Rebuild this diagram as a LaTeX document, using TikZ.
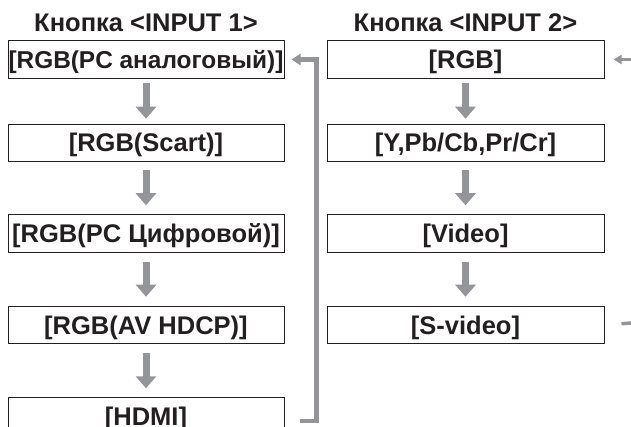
\documentclass[tikz,border=0pt]{standalone}
\usepackage{fontspec}
\setmainfont{Liberation Sans}
\usepackage{tikz}
\usetikzlibrary{positioning,arrows.meta}
\definecolor{manGray}{HTML}{939598}
\definecolor{manInk}{HTML}{231F20}
\tikzset{
  modeBox/.style={draw=manInk, line width=1pt, fill=white, minimum width=276pt, minimum height=37.5pt,
    inner sep=0pt, text height=18pt, text depth=0pt, font=\fontsize{25.5}{27}\selectfont\bfseries, text=manInk},
  header/.style={inner sep=0pt, text depth=0pt, font=\fontsize{25.5}{27}\selectfont\bfseries, text=manInk},
  stepArrow/.style={-{Triangle[width=20pt,length=12pt]}, line width=7pt, draw=manGray},
  loopArrow/.style={-{Triangle[width=11pt,length=9pt]}, line width=4.5pt, draw=manGray, shorten >=7pt},
  sideArrow/.style={-{Triangle[width=9pt,length=8pt]}, line width=3pt, draw=manGray},
  sideLine/.style={line width=3.5pt, draw=manGray}
}

\begin{document}
\begin{tikzpicture}[x=1pt, y=1pt]
  \useasboundingbox (0,0) rectangle (631,-427);
  % INPUT 1 column
  \node[modeBox, font=\fontsize{24.4}{26}\selectfont\bfseries] (lin1) at (146,-59.5) {[RGB(PC аналоговый)]};
  \node[modeBox, below=45pt of lin1] (lin2) {[RGB(Scart)]};
  \node[modeBox, below=52pt of lin2] (lin3) {[RGB(PC Цифровой)]};
  \node[modeBox, below=53pt of lin3] (lin4) {[RGB(AV HDCP)]};
  \node[modeBox, below=53pt of lin4] (lin5) {[HDMI]};
  \node[header, above=9pt of lin1] (head1) {Кнопка <INPUT 1>};
  % INPUT 2 column
  \node[modeBox, right=42pt of lin1, minimum width=277pt] (rin1) {[RGB]};
  \node[modeBox, right=42pt of lin2, minimum width=277pt] (rin2) {[Y,Pb/Cb,Pr/Cr]};
  \node[modeBox, right=42pt of lin3, minimum width=277pt] (rin3) {[Video]};
  \node[modeBox, right=42pt of lin4, minimum width=277pt] (rin4) {[S-video]};
  \node[header, above=9pt of rin1] (head2) {Кнопка <INPUT 2>};
  % steps
  \draw[stepArrow, shorten <=4pt, shorten >=5pt] (lin1) -- (lin2);
  \draw[stepArrow, shorten <=8pt, shorten >=9pt] (lin2) -- (lin3);
  \draw[stepArrow, shorten <=9pt, shorten >=9pt] (lin3) -- (lin4);
  \draw[stepArrow, shorten <=9pt, shorten >=9pt] (lin4) -- (lin5);
  \draw[stepArrow, shorten <=4pt, shorten >=5pt] (rin1) -- (rin2);
  \draw[stepArrow, shorten <=8pt, shorten >=9pt] (rin2) -- (rin3);
  \draw[stepArrow, shorten <=9pt, shorten >=9pt] (rin3) -- (rin4);
  % loop back and side links
  \coordinate (loopStart) at (300,-421);
  \coordinate (inRight) at (631,-59.5);
  \coordinate (outRight) at (631,-323);
  \draw[loopArrow] (loopStart) -| ([xshift=32pt]lin1.east) -- (lin1.east);
  \draw[sideArrow, shorten >=9pt] (inRight) -- (rin1.east);
  \draw[sideLine, shorten <=17pt] (rin4.east) -- (outRight);
\end{tikzpicture}
\end{document}
